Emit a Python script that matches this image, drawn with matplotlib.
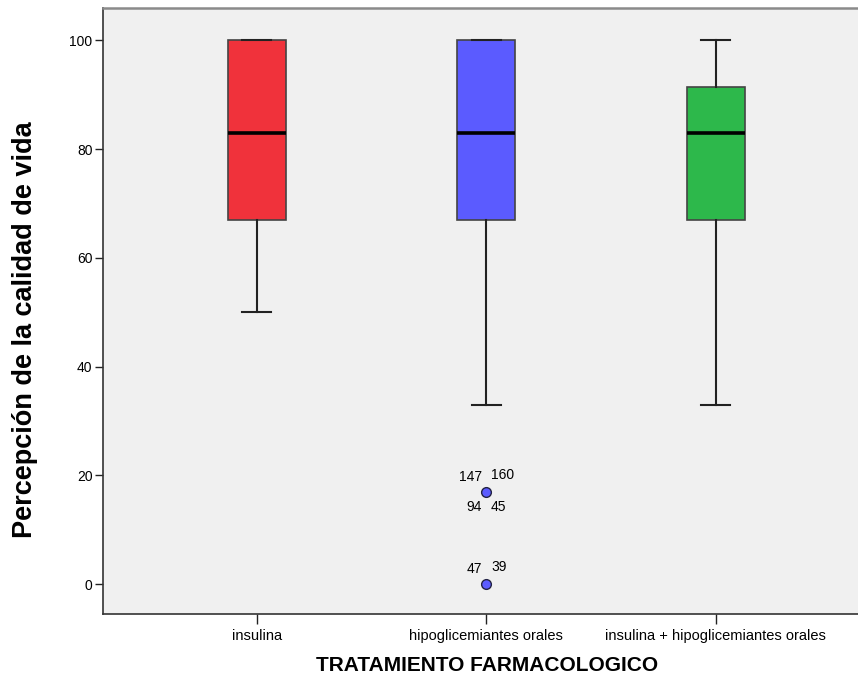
import matplotlib.pyplot as plt
import numpy as np

plt.rcParams['font.family'] = ['Liberation Sans', 'DejaVu Sans']

# datos del grafico
grupos = ['insulina', 'hipoglicemiantes orales', 'insulina + hipoglicemiantes orales']
q1 = [67, 67, 67]
mediana = [83, 83, 83]
q3 = [100, 100, 91.5]
bigote_inf = [50, 33, 33]
bigote_sup = [100, 100, 100]
atipicos = [[], [17, 0], []]
colores = ['#f0323b', '#5b5bff', '#2db84b']
etiquetas_atipicos = [(1, 17, ['147', '160', '94', '45']), (1, 0, ['47', '39'])]

fig = plt.figure(figsize=(8.58, 6.79), dpi=100)
ax = fig.add_axes([0.12, 0.0957, 0.88, 0.892])
ax.set_facecolor('#f0f0f0')

stats = []
for i, g in enumerate(grupos):
    stats.append({'label': g, 'q1': q1[i], 'med': mediana[i], 'q3': q3[i],
                  'whislo': bigote_inf[i], 'whishi': bigote_sup[i],
                  'fliers': atipicos[i]})

pos = np.arange(1, len(grupos) + 1)
bp = ax.bxp(stats, positions=pos, widths=0.253, patch_artist=True,
            boxprops=dict(edgecolor='#444444', linewidth=1.2),
            medianprops=dict(color='black', linewidth=2.6),
            whiskerprops=dict(color='#222222', linewidth=1.5),
            capprops=dict(color='#222222', linewidth=1.5),
            capwidths=0.126,
            flierprops=dict(marker='o', markersize=7, markeredgecolor='#222244',
                            markeredgewidth=1.0))
for caja, c in zip(bp['boxes'], colores):
    caja.set_facecolor(c)
for fl, c in zip(bp['fliers'], colores):
    fl.set_markerfacecolor(c)

# etiquetas de los casos atipicos
for idx, yv, labs in etiquetas_atipicos:
    x = pos[idx]
    ax.text(x - 0.02, yv + 1.5, labs[0], ha='right', va='bottom', fontsize=10)
    ax.text(x + 0.02, yv + 1.8, labs[1], ha='left', va='bottom', fontsize=10)
    if len(labs) > 2:
        ax.text(x - 0.02, yv - 1.5, labs[2], ha='right', va='top', fontsize=10)
        ax.text(x + 0.02, yv - 1.5, labs[3], ha='left', va='top', fontsize=10)

ax.set_xlim(0.329, 3.62)
ax.set_ylim(-5.5, 105.9)
ax.set_yticks([0, 20, 40, 60, 80, 100])
ax.set_xticks(pos)
ax.set_xticklabels(grupos)
ax.tick_params(axis='x', labelsize=10.5, length=7, width=1, color='#222222')
ax.tick_params(axis='y', labelsize=10, length=5.5, width=1, color='#222222', pad=2)

ax.spines['right'].set_visible(False)
ax.spines['top'].set_color('#8a8a8a')
ax.spines['top'].set_linewidth(1.8)
ax.spines['left'].set_color('#333333')
ax.spines['bottom'].set_color('#333333')
ax.spines['left'].set_linewidth(1.2)
ax.spines['bottom'].set_linewidth(1.2)

ax.set_ylabel('Percepción de la calidad de vida', fontsize=19.5, fontweight='bold')
ax.yaxis.set_label_coords(-0.086, 0.469)
ax.set_xlabel('TRATAMIENTO FARMACOLOGICO', fontsize=15, fontweight='bold')
ax.xaxis.set_label_coords(0.509, -0.07)

plt.savefig('out.png', dpi=100)
